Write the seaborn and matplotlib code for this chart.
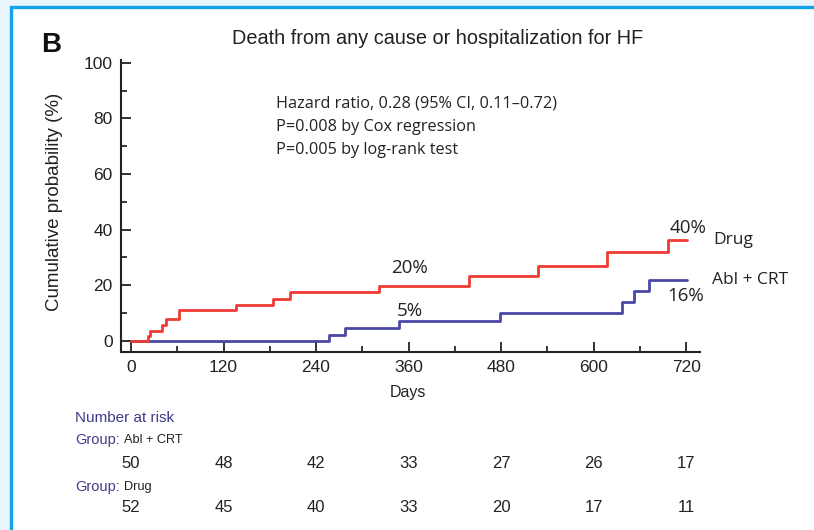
import matplotlib
matplotlib.use("Agg")
import matplotlib.pyplot as plt
import matplotlib.transforms as mtransforms
from matplotlib.patches import Rectangle
import seaborn as sns
import pandas as pd

# ---- data ----
drug_days = [0, 22, 25, 40, 46, 62, 136, 184, 206, 322, 438, 528, 617, 696, 721]
drug_pct = [0, 1.8, 3.6, 5.8, 7.8, 11.2, 13.0, 15.0, 17.4, 19.6, 23.3, 27.0, 31.8, 36.1, 36.1]
abl_days = [0, 257, 277, 347, 478, 637, 653, 672, 721]
abl_pct = [0, 2.2, 4.6, 7.3, 10.2, 13.8, 17.8, 21.8, 21.8]
risk_days = [0, 120, 240, 360, 480, 600, 720]
risk_abl = [50, 48, 42, 33, 27, 26, 17]
risk_drug = [52, 45, 40, 33, 20, 17, 11]
x_ticks = [0, 120, 240, 360, 480, 600, 720]
y_ticks = [0, 20, 40, 60, 80, 100]

df = pd.concat([
    pd.DataFrame({"day": abl_days, "pct": abl_pct, "group": "Abl + CRT"}),
    pd.DataFrame({"day": drug_days, "pct": drug_pct, "group": "Drug"}),
])

sns.set_style("ticks")
plt.rcParams["font.family"] = ["Liberation Sans", "DejaVu Sans"]

W, H = 814, 530
fig = plt.figure(figsize=(W / 100, H / 100), dpi=100)
fig.patch.set_facecolor("#eaf6fd")
fig.patches.append(Rectangle((10.5 / W, -0.2), 1.2, (H - 6.5) / H + 0.2,
                             transform=fig.transFigure, facecolor="white",
                             edgecolor="#14a3ea", linewidth=2.4, zorder=-5))

left, right, top, bottom = 121, 700, 60, 352
ax = fig.add_axes([left / W, (H - bottom) / H, (right - left) / W, (bottom - top) / H])
ax.set_facecolor("none")
ax.set_zorder(2)

red = "#ef3b34"
blue = "#4a48a6"
sns.lineplot(data=df, x="day", y="pct", hue="group", palette={"Abl + CRT": blue, "Drug": red},
             hue_order=["Abl + CRT", "Drug"], drawstyle="steps-post", linewidth=2.0,
             legend=False, ax=ax, estimator=None)

ax.set_xlim(-13, 738)
ax.set_ylim(-4, 101)
ax.set_xticks(x_ticks)
ax.set_xticks([60, 180, 300, 420, 540, 660], minor=True)
ax.set_yticks(y_ticks)
ax.set_yticks([10, 30, 50, 70, 90], minor=True)
ax.tick_params(axis="both", which="major", direction="in", length=7, width=1.3,
               labelsize=12.5, colors="#222222")
ax.tick_params(axis="both", which="minor", direction="in", length=4, width=1.3)
ax.tick_params(axis="y", pad=6)
ax.tick_params(axis="x", pad=6)
for s in ["top", "right"]:
    ax.spines[s].set_visible(False)
for s in ["left", "bottom"]:
    ax.spines[s].set_linewidth(1.5)
    ax.spines[s].set_color("#222222")
ax.set_xlabel("")
ax.set_ylabel("")

def fy(py):
    return (H - py) / H

fig.text(55 / W, fy(202), "Cumulative probability (%)", rotation=90, ha="center", va="center",
         fontsize=13.5, color="#222222")
fig.text(408 / W, fy(393), "Days", ha="center", va="center", fontsize=11.5, color="#222222")
fig.text(438 / W, fy(38), "Death from any cause or hospitalization for HF", ha="center",
         va="center", fontsize=14.3, color="#222222")
fig.text(51 / W, fy(45), "B", ha="center", va="center", fontsize=20, fontweight="bold",
         color="#111111")

calib = ["Open Sans", "DejaVu Sans"]
fig.text(276 / W, fy(104), "Hazard ratio, 0.28 (95% CI, 0.11\u20130.72)", ha="left",
         va="center", fontsize=11.7, family=calib, color="#222222")
fig.text(276 / W, fy(127), "P=0.008 by Cox regression", ha="left", va="center",
         fontsize=11.7, family=calib, color="#222222")
fig.text(276 / W, fy(150), "P=0.005 by log-rank test", ha="left", va="center",
         fontsize=11.7, family=calib, color="#222222")

pk = dict(va="center", fontsize=13.5, family=calib, color="#222222")
fig.text(410 / W, fy(268), "20%", ha="center", **pk)
fig.text(410 / W, fy(311), "5%", ha="center", **pk)
fig.text(688 / W, fy(228), "40%", ha="center", **pk)
fig.text(686 / W, fy(296), "16%", ha="center", **pk)
gk = dict(va="center", fontsize=12.5, family=calib, color="#222222")
fig.text(713 / W, fy(240), "Drug", ha="left", **gk)
fig.text(712 / W, fy(280), "Abl + CRT", ha="left", **gk)

purple = "#3e3a8a"
fig.text(75 / W, fy(418), "Number at risk", ha="left", va="center", fontsize=11, color=purple)
fig.text(75 / W, fy(440), "Group:", ha="left", va="center", fontsize=10.5, color=purple)
fig.text(124 / W, fy(440), "Abl + CRT", ha="left", va="center", fontsize=9.2, color="#222222")
fig.text(75 / W, fy(487), "Group:", ha="left", va="center", fontsize=10.5, color=purple)
fig.text(124 / W, fy(487), "Drug", ha="left", va="center", fontsize=9.2, color="#222222")

trans = mtransforms.blended_transform_factory(ax.transData, fig.transFigure)
for d, a, g in zip(risk_days, risk_abl, risk_drug):
    ax.text(d, fy(463), str(a), transform=trans, ha="center", va="center", fontsize=12, color="#222222")
    ax.text(d, fy(508), str(g), transform=trans, ha="center", va="center", fontsize=12, color="#222222")

fig.savefig("out.png", dpi=100, facecolor=fig.get_facecolor())
